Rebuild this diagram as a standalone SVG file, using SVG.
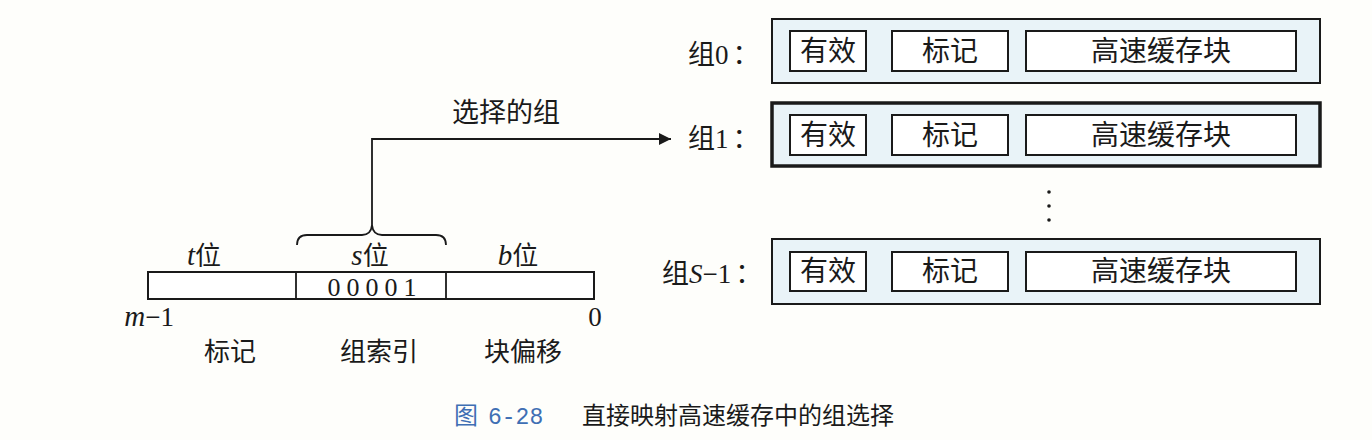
<svg xmlns="http://www.w3.org/2000/svg" width="1372" height="440" viewBox="0 0 1372 440">
<defs>
<style>
.t{font-family:"Liberation Serif","Noto Sans CJK SC",serif;fill:#1a1a1a}
.cn{font-family:"Noto Sans CJK SC","Liberation Serif",sans-serif;fill:#1a1a1a}
.set{fill:#e9f3f8;stroke:#1a1a1a;stroke-width:2}
.sel{stroke-width:3.5}
.cell{fill:#ffffff;stroke:#1a1a1a;stroke-width:2}
.lbl{font-size:27px}
.in{font-size:28px;text-anchor:middle}
.ln{fill:none;stroke:#1a1a1a;stroke-width:1.8}
.it{font-style:italic;font-size:29px}
</style>
<marker id="ah" viewBox="0 0 10 10" refX="10" refY="5" markerWidth="16" markerHeight="12" markerUnits="userSpaceOnUse" orient="auto">
<path d="M0,0 L10,5 L0,10 z" fill="#1a1a1a"/>
</marker>
</defs>
<rect width="1372" height="440" fill="#fefefb"/>

<g id="address">
<rect x="148" y="272" width="446" height="27" class="cell"/>
<line x1="296" y1="272" x2="296" y2="299" class="ln"/>
<line x1="446" y1="272" x2="446" y2="299" class="ln"/>
<text x="375" y="296" class="t" font-size="26" text-anchor="middle" letter-spacing="6">00001</text>
<text x="204" y="265" class="t" font-size="26" text-anchor="middle"><tspan class="it">t</tspan>位</text>
<text x="370" y="265" class="t" font-size="26" text-anchor="middle"><tspan class="it">s</tspan>位</text>
<text x="518" y="265" class="t" font-size="26" text-anchor="middle"><tspan class="it">b</tspan>位</text>
<text x="174" y="326" class="t" font-size="27" text-anchor="end"><tspan class="it">m</tspan>−1</text>
<text x="595" y="326" class="t" font-size="27" text-anchor="middle">0</text>
<text x="230" y="361" class="cn" font-size="26" text-anchor="middle">标记</text>
<text x="379" y="361" class="cn" font-size="26" text-anchor="middle">组索引</text>
<text x="523" y="361" class="cn" font-size="26" text-anchor="middle">块偏移</text>
</g>

<g id="connectors">
<path class="ln" d="M297,245 Q297,235 307,235 L362,235 Q371,235 372,225 Q373,235 382,235 L436,235 Q446,235 446,245"/>
<path class="ln" d="M372,225 L372,139 L671,139" marker-end="url(#ah)"/>
<text x="506" y="122" class="cn" font-size="27" text-anchor="middle">选择的组</text>
</g>

<g id="set0">
<text x="688" y="64" class="t lbl">组0<tspan dx="4">：</tspan></text>
<rect x="772" y="19" width="548" height="64" class="set"/>
<rect x="790" y="31" width="76" height="40" class="cell"/>
<rect x="892" y="31" width="116" height="40" class="cell"/>
<rect x="1026" y="31" width="270" height="40" class="cell"/>
<text x="828" y="61" class="cn in">有效</text>
<text x="950" y="61" class="cn in">标记</text>
<text x="1161" y="61" class="cn in">高速缓存块</text>
</g>

<g id="set1">
<text x="688" y="148" class="t lbl">组1<tspan dx="4">：</tspan></text>
<rect x="772" y="103" width="548" height="63" class="set sel"/>
<rect x="790" y="115" width="76" height="40" class="cell"/>
<rect x="892" y="115" width="116" height="40" class="cell"/>
<rect x="1026" y="115" width="270" height="40" class="cell"/>
<text x="828" y="145" class="cn in">有效</text>
<text x="950" y="145" class="cn in">标记</text>
<text x="1161" y="145" class="cn in">高速缓存块</text>
</g>

<g id="dots" fill="#1a1a1a">
<circle cx="1049" cy="192" r="1.8"/>
<circle cx="1049" cy="206" r="1.8"/>
<circle cx="1049" cy="220" r="1.8"/>
</g>

<g id="setS">
<text x="662" y="283" class="t lbl">组<tspan font-style="italic">S</tspan>−1<tspan dx="4">：</tspan></text>
<rect x="772" y="239" width="548" height="65" class="set"/>
<rect x="790" y="252" width="76" height="39" class="cell"/>
<rect x="892" y="252" width="116" height="39" class="cell"/>
<rect x="1026" y="252" width="270" height="39" class="cell"/>
<text x="828" y="281" class="cn in">有效</text>
<text x="950" y="281" class="cn in">标记</text>
<text x="1161" y="281" class="cn in">高速缓存块</text>
</g>

<g id="caption">
<text x="454" y="424" font-family="'Noto Sans CJK SC',sans-serif" font-size="24" fill="#3f6fb4">图<tspan dx="10" font-family="'Liberation Mono',monospace" font-size="23">6-28</tspan></text>
<text x="582" y="424" class="cn" font-size="24">直接映射高速缓存中的组选择</text>
</g>
</svg>
